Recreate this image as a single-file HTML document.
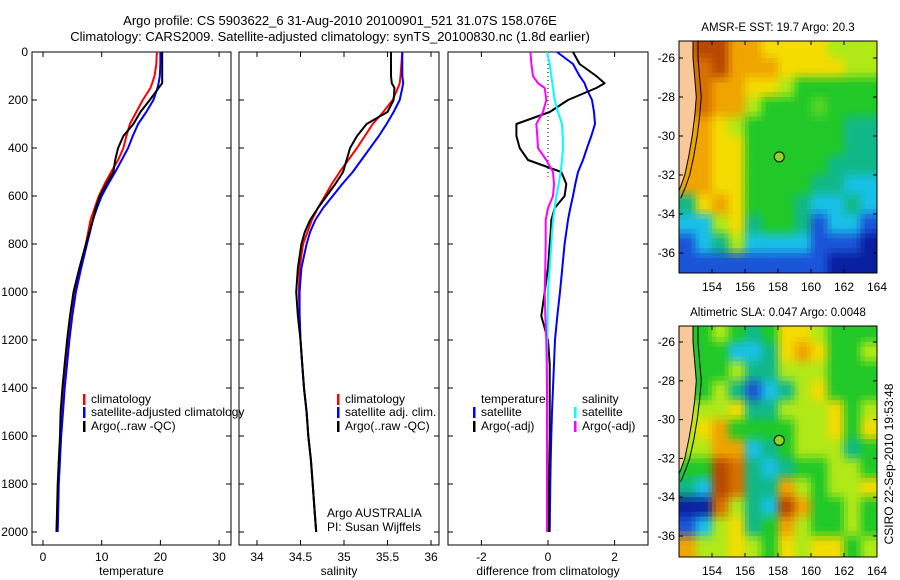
<!DOCTYPE html>
<html><head><meta charset="utf-8"><style>
body{margin:0;background:#fff}
svg{display:block;font-family:"Liberation Sans",sans-serif}
</style></head><body>
<svg id="fig" width="900" height="580" viewBox="0 0 900 580" xmlns="http://www.w3.org/2000/svg">
<text x="340" y="25" font-size="13" text-anchor="middle">Argo profile: CS 5903622_6 31-Aug-2010 20100901_521 31.07S 158.076E</text>
<text x="330" y="41" font-size="13" text-anchor="middle">Climatology: CARS2009. Satellite-adjusted climatology: synTS_20100830.nc (1.8d earlier)</text>
<g id="g"></g>
<text x="778" y="31" font-size="11.5" text-anchor="middle">AMSR-E SST: 19.7 Argo: 20.3</text>
<text x="778" y="316" font-size="11.5" text-anchor="middle">Altimetric SLA: 0.047 Argo: 0.0048</text>
<text transform="translate(893,464) rotate(-90)" font-size="12" text-anchor="middle">CSIRO 22-Sep-2010 19:53:48</text>
<text x="327" y="517" font-size="12">Argo AUSTRALIA</text>
<text x="327" y="531" font-size="12">PI: Susan Wijffels</text>
</svg>
<script>
// ---- data ----
const depths = [0,50,100,130,150,200,250,300,350,400,450,500,550,600,650,700,750,800,900,1000,1100,1200,1300,1400,1500,1600,1700,1800,1900,2000];
const tempClim = [19.4,19.3,19.0,18.6,18.3,17.0,15.9,14.8,14.2,13.7,12.8,11.6,10.5,9.5,8.8,8.1,7.7,7.3,6.3,5.4,4.9,4.4,3.9,3.4,3.2,3.0,2.8,2.6,2.45,2.3];
const tempSat = [20.0,20.0,19.9,19.7,19.5,18.8,17.6,16.2,15.3,14.5,13.4,12.3,11.1,10.0,9.2,8.5,8.0,7.5,6.5,5.6,5.0,4.5,4.1,3.7,3.4,3.1,2.9,2.7,2.6,2.5];
const tempArgo = [20.3,20.3,20.3,20.3,19.7,18.2,16.6,15.4,13.7,12.8,12.3,12.0,10.8,9.7,9.0,8.5,7.9,7.3,6.2,5.2,4.6,4.1,3.7,3.3,3.0,2.9,2.7,2.5,2.4,2.3];
const salClim = [35.67,35.66,35.65,35.64,35.62,35.56,35.45,35.33,35.24,35.15,35.05,34.95,34.86,34.78,34.70,34.63,34.58,34.53,34.49,34.48,34.49,34.50,34.52,34.54,34.57,34.59,34.62,34.64,34.66,34.68];
const salSat = [35.67,35.67,35.67,35.68,35.67,35.64,35.57,35.49,35.40,35.30,35.20,35.10,34.98,34.87,34.76,34.67,34.61,34.57,34.51,34.49,34.49,34.50,34.52,34.54,34.57,34.59,34.62,34.64,34.66,34.68];
const salArgo = [35.54,35.54,35.54,35.55,35.58,35.57,35.50,35.26,35.15,35.07,35.03,34.99,34.90,34.80,34.70,34.61,34.55,34.51,34.47,34.45,34.47,34.50,34.52,34.54,34.57,34.59,34.62,34.64,34.66,34.68];
const diffTempSat = [0.27,0.75,0.95,1.1,1.15,1.32,1.38,1.41,1.3,1.17,1.05,0.9,0.82,0.75,0.67,0.6,0.55,0.5,0.43,0.36,0.28,0.21,0.18,0.15,0.12,0.1,0.08,0.07,0.06,0.05];
const diffSalSat = [-0.03,0.05,0.1,0.13,0.15,0.2,0.3,0.42,0.44,0.45,0.42,0.38,0.32,0.25,0.2,0.15,0.12,0.1,0.05,0.0,-0.01,-0.02,-0.03,-0.03,-0.03,-0.03,-0.03,-0.03,-0.03,-0.03];
const diffTempArgo = [0.75,0.95,1.45,1.7,1.45,0.6,0.05,-0.95,-0.95,-0.85,-0.6,0.4,0.55,0.5,0.2,0.1,0.08,0.05,0.0,-0.1,-0.2,0.0,0.05,0.05,0.05,0.05,0.04,0.03,0.03,0.03];
const diffSalArgo = [-0.53,-0.5,-0.45,-0.3,-0.1,-0.05,-0.15,-0.35,-0.32,-0.3,-0.05,0.15,0.18,0.15,0.0,-0.07,-0.07,-0.07,-0.08,-0.1,-0.08,-0.05,-0.04,-0.03,-0.03,-0.03,-0.03,-0.03,-0.03,-0.03];
const depthTicks = [0,200,400,600,800,1000,1200,1400,1600,1800,2000];
const tempTicks = [0,10,20,30];
const salTicks = [34,34.5,35,35.5,36];
const salTickLabels = ["34","34.5","35","35.5","36"];
const diffTicks = [-2,0,2];
const lonTicks = [154,156,158,160,162,164];
const latTicks = [-26,-28,-30,-32,-34,-36];
// map grids: cell centres lat -25.5..-36.5, lon 152.5..163.5
const sstRows = ["rRRooyyyylll","rrRoooyyyyll","rrooyylggggg","rroolgggiggg","ooylggggggtt","ooyyggggggtt","ooyygggggttt","ooyyggggttcc","tyoygggtcctc","cclytggtbccb","bctlccccbbbd","bbbbbbbbbddd"];
const slaRows = ["gglgtgyylggg","gggcctyoyggl","ggglttlllggg","ggltbctlyggg","lllyttlllygl","lyoggggllygy","llooctgllltg","ggRrtctggllg","tcRrttolglly","ddrltcRogglg","bclytgolgglg","ollylgylyygl"];
const palette = {d:[10,31,160],b:[26,85,216],c:[24,192,232],t:[16,184,136],g:[32,200,40],i:[88,212,40],l:[176,232,24],y:[244,220,0],o:[240,164,0],r:[216,112,0],R:[184,72,0]};
const markerLon = 158.076, markerLat = -31.07;

// ---- helpers ----
const NS="http://www.w3.org/2000/svg";
const G=document.getElementById('g');
function mk(tag,attrs,parent){const e=document.createElementNS(NS,tag);for(const k in attrs)e.setAttribute(k,attrs[k]);(parent||G).appendChild(e);return e;}
const yD = d => 52 + d*480/2000;
const panels = [
 {x0:32,x1:231,fx:v=>43+v*5.87,ticks:tempTicks,labels:tempTicks.map(String),xl:"temperature",name:"temperature"},
 {x0:239,x1:439,fx:v=>257+(v-34)*87,ticks:salTicks,labels:salTickLabels,xl:"salinity",name:"salinity"},
 {x0:448,x1:648,fx:v=>548+v*33.3,ticks:diffTicks,labels:diffTicks.map(String),xl:"difference from climatology",name:"difference"}
];
panels.forEach((p,i)=>{
  const r=mk('rect',{x:p.x0,y:52,width:p.x1-p.x0,height:493,fill:"#fff",stroke:"#000","stroke-width":1});
  
  
  p.ticks.forEach((t,j)=>{
    const x=p.fx(t);
    mk('line',{x1:x,y1:545,x2:x,y2:540,stroke:"#000"});
    mk('line',{x1:x,y1:52,x2:x,y2:57,stroke:"#000"});
    const tx=mk('text',{x:x,y:561,"font-size":12,"text-anchor":"middle"});tx.textContent=p.labels[j];
    
    
  });
  depthTicks.forEach(d=>{
    mk('line',{x1:p.x0,y1:yD(d),x2:p.x0+5,y2:yD(d),stroke:"#000"});
    mk('line',{x1:p.x1,y1:yD(d),x2:p.x1-5,y2:yD(d),stroke:"#000"});
  });
  const xl=mk('text',{x:(p.x0+p.x1)/2,y:575,"font-size":12,"text-anchor":"middle"});xl.textContent=p.xl;
  
  
});
depthTicks.forEach(d=>{
  const t=mk('text',{x:28,y:yD(d)+4,"font-size":12,"text-anchor":"end"});t.textContent=d;
  
  
});
mk('line',{x1:548,y1:52,x2:548,y2:yD(520),stroke:"#000","stroke-dasharray":"1,3"});
function line(vals,p,color,w,name){
  const pts=vals.map((v,i)=>p.fx(v).toFixed(1)+","+yD(depths[i]).toFixed(1)).join(" ");
  const l=mk('polyline',{points:pts,fill:"none",stroke:color,"stroke-width":w,"stroke-linejoin":"round"});
  
  
}
line(tempClim,panels[0],"#f00",2,"temp-climatology-line");
line(tempSat,panels[0],"#00f",2,"temp-satellite-line");
line(tempArgo,panels[0],"#000",2,"temp-argo-line");
line(salClim,panels[1],"#f00",2,"sal-climatology-line");
line(salSat,panels[1],"#00f",2,"sal-satellite-line");
line(salArgo,panels[1],"#000",2,"sal-argo-line");
line(diffTempSat,panels[2],"#00f",2,"diff-temp-satellite-line");
line(diffTempArgo,panels[2],"#000",2,"diff-temp-argo-line");
line(diffSalSat,panels[2],"#0ff",2,"diff-sal-satellite-line");
line(diffSalArgo,panels[2],"#f0f",2,"diff-sal-argo-line");
function leg(x,y,color,label,name){
  if(color) mk('rect',{x:x,y:y-9,width:2.5,height:11,fill:color});
  const t=mk('text',{x:x+8,y:y,"font-size":12});t.textContent=label;
  
  
}
leg(83,403,"#f00","climatology","legend-climatology");
leg(83,416,"#00f","satellite-adjusted climatology","legend-satellite-adjusted");
leg(83,430,"#000","Argo(..raw -QC)","legend-argo");
leg(337,403,"#f00","climatology","legend-sal-climatology");
leg(337,416,"#00f","satellite adj. clim.","legend-sal-satellite");
leg(337,430,"#000","Argo(..raw -QC)","legend-sal-argo");
leg(473,403,null,"temperature","legend-temperature-header");
leg(473,416,"#00f","satellite","legend-diff-temp-satellite");
leg(473,430,"#000","Argo(-adj)","legend-diff-temp-argo");
leg(574,403,null,"salinity","legend-salinity-header");
leg(574,416,"#0ff","satellite","legend-diff-sal-satellite");
leg(574,430,"#f0f","Argo(-adj)","legend-diff-sal-argo");

// ---- maps ----
const coastLat=[-24.5,-26,-27,-28,-29,-30,-31,-32,-32.6,-33.2];
const coastLon=[152.85,152.85,152.95,153.05,152.95,152.8,152.6,152.35,152.1,151.8];
const sm=a=>a*a*(3-2*a);
function colorAt(rows,lon,lat){
  let fxi=Math.min(Math.max(lon-152.5,0),11), fyi=Math.min(Math.max(-25.5-lat,0),11);
  const i0=Math.floor(fyi), j0=Math.floor(fxi), i1=Math.min(i0+1,11), j1=Math.min(j0+1,11);
  const a=sm(fyi-i0), b=sm(fxi-j0);
  const c=[0,1,2].map(k=>palette[rows[i0][j0]][k]*(1-a)*(1-b)+palette[rows[i0][j1]][k]*(1-a)*b+palette[rows[i1][j0]][k]*a*(1-b)+palette[rows[i1][j1]][k]*a*b);
  return "rgb("+c.map(Math.round).join(",")+")";
}
function drawMap(rows,top,bottom,lat26,ppd,id,name){
  const x0=679,x1=877;
  const fx=lon=>712+(lon-154)*16.5;
  const fy=lat=>lat26+(-26-lat)*ppd;
  const cp=mk('clipPath',{id:id});mk('rect',{x:x0,y:top,width:x1-x0,height:bottom-top},cp);
  const g=mk('g',{"clip-path":"url(#"+id+")"});
  
  
  const step=0.25;
  for(let lat=-25; lat>-37.5; lat-=step){
    for(let lon=152; lon<164.01; lon+=step){
      mk('rect',{x:fx(lon).toFixed(2),y:fy(lat).toFixed(2),width:(16.5*step+0.4).toFixed(2),height:(ppd*step+0.4).toFixed(2),fill:colorAt(rows,lon+step/2,lat-step/2)},g);
    }
  }
  let pts=coastLon.map((lo,i)=>fx(lo).toFixed(1)+","+fy(coastLat[i]).toFixed(1));
  pts.push(fx(151)+","+fy(-33.2),fx(151)+","+fy(-24.5));
  mk('polygon',{points:pts.join(" "),fill:"#f8c898",stroke:"#000","stroke-width":1},g);
  const iso=coastLon.map((lo,i)=>fx(lo+0.3).toFixed(1)+","+fy(coastLat[i]).toFixed(1)).join(" ");
  mk('polyline',{points:iso,fill:"none",stroke:"#000","stroke-width":1},g);
  mk('rect',{x:x0,y:top,width:x1-x0,height:bottom-top,fill:"none",stroke:"#000"});
  lonTicks.forEach(lo=>{
    const x=fx(lo);
    mk('line',{x1:x,y1:bottom,x2:x,y2:bottom-4,stroke:"#000"});
    mk('line',{x1:x,y1:top,x2:x,y2:top+4,stroke:"#000"});
    const t=mk('text',{x:x,y:bottom+18,"font-size":12,"text-anchor":"middle"});t.textContent=lo;
    
    
  });
  latTicks.forEach(la=>{
    const y=fy(la);
    mk('line',{x1:x0,y1:y,x2:x0+4,y2:y,stroke:"#000"});
    mk('line',{x1:x1,y1:y,x2:x1-4,y2:y,stroke:"#000"});
    const t=mk('text',{x:x0-4,y:y+4,"font-size":12,"text-anchor":"end"});t.textContent=la;
    
    
  });
  const m=mk('circle',{cx:fx(markerLon),cy:fy(markerLat),r:5,fill:"#8cd820",stroke:"#000"});
  
  
}
drawMap(sstRows,41,273,58,19.5,"c1","sst-map");
drawMap(slaRows,326,557,342,19.4,"c2","sla-map");
</script>
</body></html>
